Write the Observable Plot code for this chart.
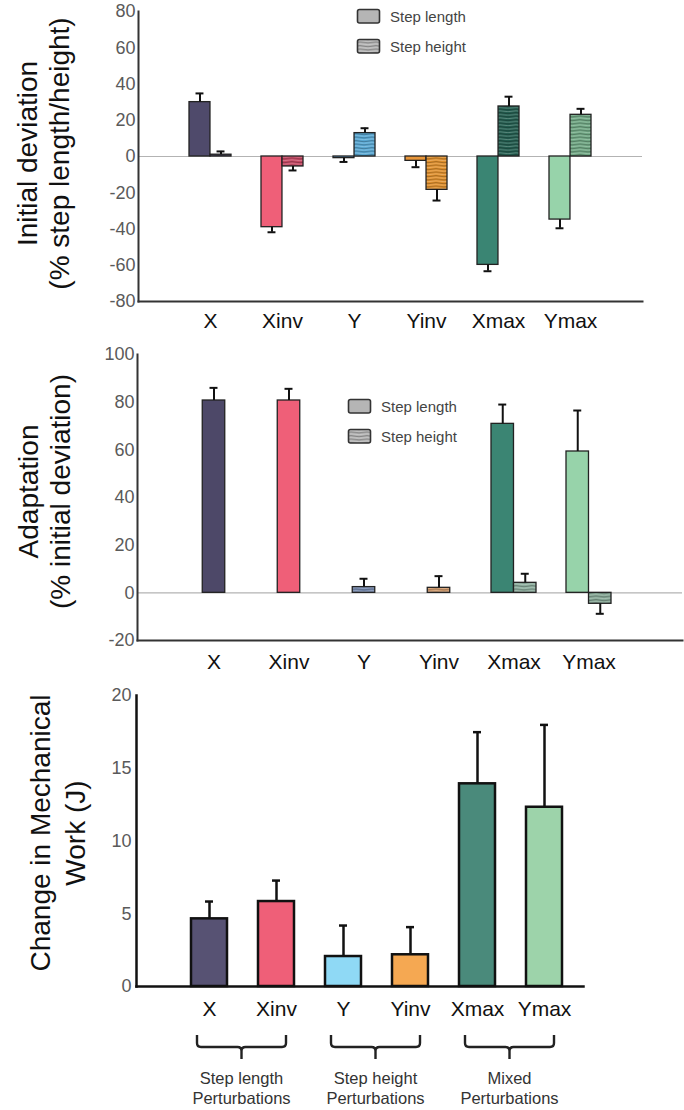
<!DOCTYPE html>
<html><head><meta charset="utf-8">
<script src="https://cdn.jsdelivr.net/npm/d3@7"></script>
<script src="https://cdn.jsdelivr.net/npm/@observablehq/plot@0.6"></script>
<style>
body{margin:0;background:#fff;font-family:"Liberation Sans",Arial,Helvetica,sans-serif;}
#root{position:relative;width:684px;height:1110px;overflow:hidden;background:#fff;}
.panel{position:absolute;left:0;}
.lg{position:absolute;font-size:15px;color:#444;white-space:nowrap;line-height:18px;}
.sw{position:absolute;}
</style></head>
<body>
<svg width="0" height="0" style="position:absolute">
<defs>
<pattern id="wave" patternUnits="userSpaceOnUse" width="16" height="3.5">
<path d="M0 1.1 Q4 0.2 8 1.1 T16 1.1" fill="none" stroke="rgba(0,0,0,0.45)" stroke-width="0.7"/>
<path d="M0 2.8 Q4 1.9 8 2.8 T16 2.8" fill="none" stroke="rgba(255,255,255,0.4)" stroke-width="0.6"/>
</pattern>
</defs></svg>
<div id="root">
<div id="p1" class="panel" style="top:0"></div>
<div id="p2" class="panel" style="top:340px"></div>
<div id="p3" class="panel" style="top:680px"></div>
</div>
<script>
// ---------- data ----------
const categories = ["X", "Xinv", "Y", "Yinv", "Xmax", "Ymax"];
const seriesNames = ["Step length", "Step height"];

// Panel A: initial deviation (% step length/height)
const initLength    = [30.0, -39.0, -0.9, -2.4, -59.8, -34.8];
const initLengthErr = [4.8, 2.8, 2.1, 3.5, 3.5, 4.8];
const initHeight    = [1.0, -5.5, 12.9, -18.4, 27.6, 23.0];
const initHeightErr = [1.8, 2.2, 2.7, 5.9, 5.4, 3.3];
const initTicks = [-80, -60, -40, -20, 0, 20, 40, 60, 80];

// Panel B: adaptation (% initial deviation)
const adaptLength    = [80.7, 80.7, null, null, 70.9, 59.3];
const adaptLengthErr = [5.3, 4.9, null, null, 8.1, 17.2];
const adaptHeight    = [null, null, 2.4, 2.1, 4.2, -4.6];
const adaptHeightErr = [null, null, 3.5, 4.9, 3.8, 4.2];
const adaptTicks = [-20, 0, 20, 40, 60, 80, 100];

// Panel C: change in mechanical work (J)
const workValues = [4.65, 5.84, 2.06, 2.18, 13.93, 12.32];
const workErr    = [1.19, 1.44, 2.13, 1.90, 3.55, 5.66];
const workTicks = [0, 5, 10, 15, 20];

const groupLabels = ["Step length\nPerturbations", "Step height\nPerturbations", "Mixed\nPerturbations"];
const groupFirst = ["X", "Y", "Xmax"];
const groupLast  = ["Xinv", "Yinv", "Ymax"];

const initLengthColors  = ["#4f4a6b", "#ef5f78", "#5b9fd0", "#e8963a", "#3a8573", "#97d3aa"];
const initHeightColors  = ["#4f4a6b", "#c94a66", "#5aaad6", "#e3922e", "#245f51", "#72aa86"];
const adaptLengthColors = ["#4d4868", "#ef5f78", null, null, "#3b8573", "#97d3aa"];
const adaptHeightColors = [null, null, "#7b8fb5", "#d8a070", "#8fb0a0", "#88aa98"];
const workColors        = ["#575273", "#ef5f78", "#8fd9f5", "#f5a852", "#4a8a7b", "#9dd3aa"];

// ---------- helpers ----------
const W = 684;
const FONT = '"Liberation Sans", Arial, Helvetica, sans-serif';

function bandWidthFor(ml, mr, xs) {
  return d3.scaleBand().domain(categories).range([ml, W - mr])
    .paddingInner(xs.paddingInner).paddingOuter(xs.paddingOuter).align(xs.align).bandwidth();
}
function buildRows(lenVals, lenErr, lenColors, hgtVals, hgtErr, hgtColors) {
  const rows = [];
  categories.forEach((cat, i) => {
    const hasL = lenVals[i] != null, hasH = hgtVals[i] != null;
    if (hasL) rows.push({cat, series: seriesNames[0], v: lenVals[i], e: lenErr[i], color: lenColors[i], pos: hasH ? "left" : "center"});
    if (hasH) rows.push({cat, series: seriesNames[1], v: hgtVals[i], e: hgtErr[i], color: hgtColors[i], pos: hasL ? "right" : "center"});
  });
  rows.forEach(r => r.end = r.v + (r.v < 0 ? -r.e : r.e));
  return rows;
}
function posInsets(pos, bw) {
  if (pos === "left") return {insetLeft: 0, insetRight: bw / 2};
  if (pos === "right") return {insetLeft: bw / 2, insetRight: 0};
  return {insetLeft: bw / 4, insetRight: bw / 4};
}
function posOffset(pos, bw) { return pos === "left" ? -bw / 4 : pos === "right" ? bw / 4 : 0; }

function errorMarks(rows, bw, sw, capW, positions) {
  const marks = [];
  for (const pos of positions) {
    const sub = rows.filter(r => r.pos === pos && r.e != null);
    const off = posOffset(pos, bw);
    marks.push(Plot.ruleX(sub, {x: "cat", y1: "v", y2: "end", dx: off, stroke: "#111", strokeWidth: sw}));
    marks.push(Plot.tickY(sub, {x: "cat", y: "end", insetLeft: bw / 2 + off - capW / 2, insetRight: bw / 2 - off - capW / 2, stroke: "#111", strokeWidth: sw}));
  }
  return marks;
}

function pairedPanel(cfg) {
  const bw = bandWidthFor(cfg.ml, cfg.mr, cfg.xs);
  const rows = buildRows(cfg.lenVals, cfg.lenErr, cfg.lenColors, cfg.hgtVals, cfg.hgtErr, cfg.hgtColors);
  const marks = [Plot.ruleY([0], {stroke: "#b3b3b3", strokeWidth: 1.2})];
  for (const pos of ["left", "right", "center"]) {
    const ins = posInsets(pos, bw);
    const L = rows.filter(r => r.pos === pos && r.series === seriesNames[0]);
    const H = rows.filter(r => r.pos === pos && r.series === seriesNames[1]);
    marks.push(Plot.barY(L, {x: "cat", y1: 0, y2: "v", fill: "color", stroke: "#222", strokeWidth: 1.3, ...ins}));
    marks.push(Plot.barY(H, {x: "cat", y1: 0, y2: "v", fill: "color", ...ins}));
    marks.push(Plot.barY(H, {x: "cat", y1: 0, y2: "v", fill: "url(#wave)", ...ins}));
    marks.push(Plot.barY(H, {x: "cat", y1: 0, y2: "v", fill: "none", stroke: "#222", strokeWidth: 1.3, ...ins}));
  }
  marks.push(...errorMarks(rows, bw, 2, 8, ["left", "right", "center"]));
  marks.push(
    Plot.frame({anchor: "left", stroke: "#333", strokeWidth: 2}),
    Plot.frame({anchor: "bottom", stroke: "#333", strokeWidth: 2}),
    Plot.axisY({ticks: cfg.ticks, tickFormat: d => String(d), tickSize: 0, tickPadding: 3, fontSize: 18, fill: "#5a5a5a", fontWeight: "normal", label: null}),
    Plot.axisX({tickSize: 0, tickPadding: cfg.xPad, fontSize: 21, fill: "#111", fontWeight: "normal", label: null}),
    Plot.text([cfg.title], {text: d => d, frameAnchor: "left", rotate: -90, dx: cfg.titleDx, dy: cfg.titleDy,
      fontSize: 28, lineHeight: 1.15, fill: "#111", textAnchor: "middle", lineAnchor: "middle"})
  );
  return Plot.plot({
    width: W, height: cfg.height,
    marginLeft: cfg.ml, marginRight: cfg.mr, marginTop: cfg.mt, marginBottom: cfg.mb,
    x: {domain: categories, ...cfg.xs},
    y: {domain: cfg.domain},
    color: {type: "identity"},
    style: {fontFamily: FONT, overflow: "visible", background: "transparent"},
    marks
  });
}

// ---------- panel A ----------
document.getElementById("p1").append(pairedPanel({
  lenVals: initLength, lenErr: initLengthErr, lenColors: initLengthColors,
  hgtVals: initHeight, hgtErr: initHeightErr, hgtColors: initHeightColors,
  ticks: initTicks, domain: [-80, 80], height: 340,
  ml: 138, mr: 42, mt: 11, mb: 39,
  xs: {paddingInner: 0.42, paddingOuter: 0.685, align: 0.5},
  xPad: 12, title: "Initial deviation\n(% step length/height)", titleDx: -96, titleDy: -3
}));

// ---------- panel B ----------
document.getElementById("p2").append(pairedPanel({
  lenVals: adaptLength, lenErr: adaptLengthErr, lenColors: adaptLengthColors,
  hgtVals: adaptHeight, hgtErr: adaptHeightErr, hgtColors: adaptHeightColors,
  ticks: adaptTicks, domain: [-20, 100], height: 335,
  ml: 137, mr: 2, mt: 14, mb: 35,
  xs: {paddingInner: 0.403, paddingOuter: 0.815, align: 0.435},
  xPad: 14, title: "Adaptation\n(% initial deviation)", titleDx: -94, titleDy: -6
}));

// ---------- panel C ----------
(function () {
  const ml = 136, mr = 101;
  const xs = {paddingInner: 0.463, paddingOuter: 0.562, align: 0.722};
  const bw = bandWidthFor(ml, mr, xs);
  const rows = categories.map((cat, i) => ({cat, v: workValues[i], e: workErr[i], color: workColors[i], pos: "center", end: workValues[i] + workErr[i]}));
  const groups = groupLabels.map((label, i) => ({label, first: groupFirst[i], last: groupLast[i]}));
  function braces(index, scales) {
    const sx = scales.x, sy = scales.y;
    const b = typeof sx.bandwidth === "function" ? sx.bandwidth() : sx.bandwidth;
    const y0 = sy(0);
    const g = d3.create("svg:g");
    const yTop = y0 + 49, yMid = y0 + 61, yTip = y0 + 73, r = 4;
    for (const grp of groups) {
      const x1 = sx(grp.first) + b / 2 - 12, x2 = sx(grp.last) + b / 2 + 10, xm = (x1 + x2) / 2;
      const d = `M${x1},${yTop} L${x1},${yMid - r} Q${x1},${yMid} ${x1 + r},${yMid} L${xm - r},${yMid} Q${xm},${yMid} ${xm},${yMid + r} L${xm},${yTip}` +
                ` M${xm},${yMid + r} Q${xm},${yMid} ${xm + r},${yMid} L${x2 - r},${yMid} Q${x2},${yMid} ${x2},${yMid - r} L${x2},${yTop}`;
      g.append("path").attr("d", d).attr("fill", "none").attr("stroke", "#222").attr("stroke-width", 2.4).attr("stroke-linejoin", "round");
      const t = g.append("text").attr("text-anchor", "middle").attr("font-size", 16.5).attr("fill", "#333").attr("font-family", FONT);
      grp.label.split("\n").forEach((line, k) => {
        t.append("tspan").attr("x", xm).attr("y", y0 + 98 + k * 20).text(line);
      });
    }
    return g.node();
  }
  const chart = Plot.plot({
    width: W, height: 430,
    marginLeft: ml, marginRight: mr, marginTop: 15, marginBottom: 124,
    x: {domain: categories, ...xs},
    y: {domain: [0, 20]},
    color: {type: "identity"},
    style: {fontFamily: FONT, overflow: "visible", background: "transparent"},
    marks: [
      Plot.barY(rows, {x: "cat", y1: 0, y2: "v", fill: "color", stroke: "#111", strokeWidth: 2.5}),
      ...errorMarks(rows, bw, 2.5, 8, ["center"]),
      Plot.frame({anchor: "left", stroke: "#111", strokeWidth: 2.5}),
      Plot.frame({anchor: "bottom", stroke: "#111", strokeWidth: 2.5}),
      Plot.axisY({ticks: workTicks, tickFormat: d => String(d), tickSize: 0, tickPadding: 5, fontSize: 18, fill: "#5a5a5a", fontWeight: "normal", label: null}),
      Plot.axisX({tickSize: 0, tickPadding: 15, fontSize: 21, fill: "#111", fontWeight: "normal", label: null}),
      Plot.text(["Change in Mechanical\nWork (J)"], {text: d => d, frameAnchor: "left", rotate: -90, dx: -80, dy: -8,
        fontSize: 28, lineHeight: 1.25, fill: "#111", textAnchor: "middle", lineAnchor: "middle"}),
      braces
    ]
  });
  document.getElementById("p3").append(chart);
})();

// ---------- legends ----------
function addLegend(top, left) {
  const root = document.getElementById("root");
  seriesNames.forEach((name, i) => {
    const y = top + i * 30;
    const sw = document.createElementNS("http://www.w3.org/2000/svg", "svg");
    sw.setAttribute("width", 26); sw.setAttribute("height", 17);
    sw.setAttribute("class", "sw");
    sw.style.left = left + "px"; sw.style.top = (y - 1) + "px";
    sw.innerHTML = `<rect x="1.5" y="1.5" width="22" height="13.5" rx="2" fill="#b5b5b5"/>` +
      (i === 1 ? `<rect x="1.5" y="1.5" width="22" height="13.5" rx="2" fill="url(#wave)"/>` : "") +
      `<rect x="1.5" y="1.5" width="22" height="13.5" rx="2" fill="none" stroke="#333" stroke-width="1.6"/>`;
    root.append(sw);
    const t = document.createElement("div");
    t.className = "lg"; t.textContent = name;
    t.style.left = (left + 34) + "px"; t.style.top = (y - 1) + "px";
    root.append(t);
  });
}
addLegend(9, 356);
addLegend(399, 347);
</script>
</body></html>
